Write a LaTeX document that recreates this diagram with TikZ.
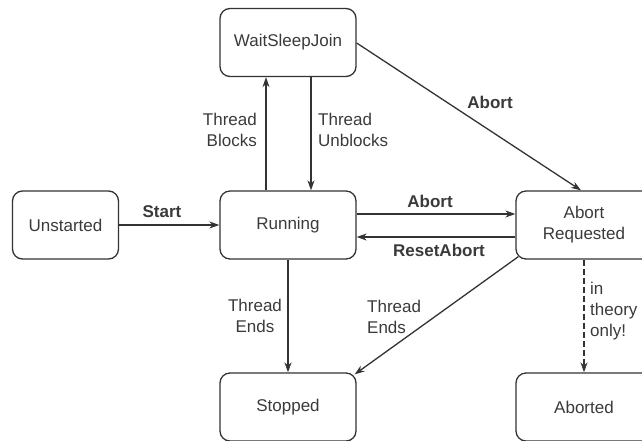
\documentclass[tikz,border=0pt]{standalone}
\usepackage{fontspec}
\setmainfont{Liberation Sans}
\usetikzlibrary{arrows.meta,calc}
\definecolor{ln}{HTML}{333333}
\definecolor{tx}{HTML}{3A3A3A}
\tikzset{
  state/.style={draw=ln, line width=1.3pt, rounded corners=10pt, minimum width=136pt, minimum height=68pt, align=center, text=tx, font=\fontsize{17}{21}\selectfont, inner sep=0pt},
  arr/.style={draw=ln, line width=1.3pt, -{Stealth[length=10pt,width=7pt]}},
  lbl/.style={text=tx, font=\fontsize{17}{21}\selectfont, inner sep=0pt},
  blbl/.style={lbl, font=\fontsize{17}{21}\selectfont\bfseries},
}
\begin{document}
\begin{tikzpicture}[x=1pt,y=-1pt]
\useasboundingbox (0,0) rectangle (642,441);
\clip (0,0) rectangle (642,441);
\node[state] (wsj) at (288,42.5) {WaitSleepJoin};
\node[state, minimum width=106pt] (uns) at (65.5,225) {Unstarted};
\node[state] (run) at (288,225) {Running};
\node[state] (areq) at (584,225) {Abort\\Requested};
\node[state] (stp) at (288,407) {Stopped};
\node[state] (abt) at (584,407) {Aborted};

\draw[arr] (uns.east) -- (run.west);
\node[blbl] (lstart) at (162,212) {Start};

\draw[arr] ($(run.north)+(-22,0)$) -- ($(wsj.south)+(-22,0)$);
\node[lbl, align=right, anchor=east] (lblk) at (257,130) {Thread\\Blocks};
\draw[arr] ($(wsj.south)+(23,0)$) -- ($(run.north)+(23,0)$);
\node[lbl, align=left, anchor=west] (lunb) at (318,130) {Thread\\Unblocks};

\draw[arr] ($(run.east)+(0,-11)$) -- ($(areq.west)+(0,-11)$);
\node[blbl] (labort) at (430,201) {Abort};
\draw[arr] ($(areq.west)+(0,12)$) -- ($(run.east)+(0,12)$);
\node[blbl] (lreset) at (439,250) {ResetAbort};

\draw[arr] ($(wsj.east)+(0,0.5)$) -- ($(areq.north)+(-3,0)$);
\node[blbl] (labort2) at (490,102) {Abort};

\draw[arr] (run.south) -- (stp.north);
\node[lbl, align=center] (lend1) at (255,316) {Thread\\Ends};

\draw[arr] ($(areq.south west)+(3,-3)$) -- ($(stp.north east)+(-2,2)$);
\node[lbl, align=left, anchor=west] (lend2) at (367,317) {Thread\\Ends};

\draw[arr, dashed, dash pattern=on 6pt off 3pt] (areq.south) -- (abt.north);
\node[lbl, align=left, anchor=west] (lth) at (590,311) {in\\theory\\only!};
\end{tikzpicture}
\end{document}
